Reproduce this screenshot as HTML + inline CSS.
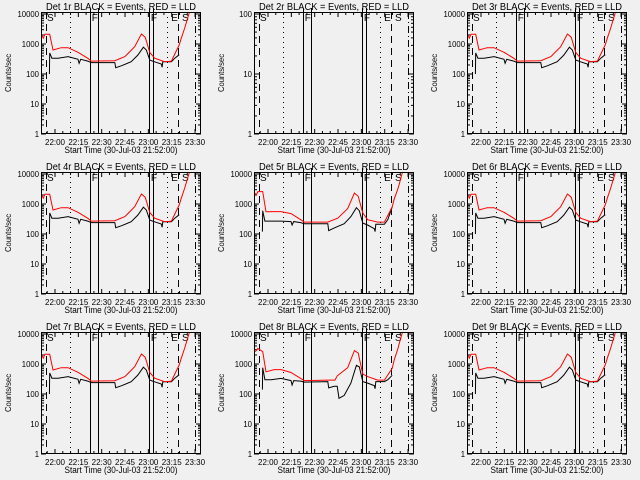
<!DOCTYPE html>
<html><head><meta charset="utf-8"><style>
html,body{margin:0;padding:0;background:#f0f0f0;}
svg{display:block;font-family:"Liberation Sans",sans-serif;}
</style></head><body>
<svg id="c" width="640" height="480" viewBox="0 0 640 480">
<rect width="640" height="480" fill="#f0f0f0"/>
</svg>
<script>
// ---- data ----
const detectors = ["1r","2r","3r","4r","5r","6r","7r","8r","9r"];
const xTickLabels = ["22:00","22:15","22:30","22:45","23:00","23:15","23:30"];
const xTickMinutes = [60,75,90,105,120,135,150]; // minutes after 21:00
const yTickLabels = ["1","10","100","1000","10000"];
const yTickLabels2 = ["1","10","100"];
// event markers (minutes after 21:00)
const markerTimes = [54.2,69.6,82.5,87.6,120.4,123,132,139,150];
const markerStyles = ["dash","dot","solid","solid","solid","solid","dot","dash","dashdot"];
const markerLabels = [["S",54.2],["F",83],["F",121],["E",134],["S",141]];

const blackTA = [56.4,56.6,58,62,68.4,74.8,75.5,76.5,81,83.3,98.4,99,102.6,109,113.3,116.8,118.7,120.9,124,128.3,128.8,129.3,134.8,137,139.8];
const blackVA = [100,500,335,335,380,310,228,310,270,240,240,162,188,258,430,780,630,290,255,215,167,255,255,335,440];
const redTA = [51.2,52.5,53.5,56.6,58.7,64,68.4,74.8,81,83.3,98.4,104.9,111.2,115.5,118,120.9,124,130.5,134.8,139.8,141.2,143.3,144.3,146.5];
const redVA = [2100,1560,2100,2100,630,750,750,530,335,270,277,380,815,2150,1680,520,335,258,270,930,1560,3300,5000,12000];

const blackVB = [120,600,270,270,270,260,200,260,240,220,220,130,160,220,380,750,600,230,200,150,120,210,210,300,800];
const redVB = [2400,2000,2600,2600,550,560,560,480,300,250,250,340,700,2300,1800,500,300,250,250,800,1500,3000,4500,12000];

const blackTC = [56.4,56.6,58,62,68.4,74.8,75.5,76.5,81,83.3,98.4,99,102.6,104.5,105.6,109,113.3,116.8,118.7,120.9,124,128.3,128.8,129.3,134.8,137,139.8];
const blackVC = [140,750,300,300,330,280,200,280,270,250,260,160,180,180,72,90,230,900,800,260,230,190,150,260,260,300,420];
const redTC = [51.2,52.5,53.5,56.6,58.7,64,68.4,74.8,81,83.3,98.4,103,104.5,111.2,115.5,118,120.9,124,130.5,134.8,139.8,141.2,143.3,144.3,146.5];
const redVC = [2500,2800,3300,2600,550,650,650,520,330,280,290,290,400,750,2800,2300,460,380,290,290,720,1400,3000,4800,12000];

const blackT = [blackTA,null,blackTA,blackTA,blackTA,blackTA,blackTA,blackTC,blackTA];
const blackV = [blackVA,null,blackVA,blackVA,blackVB,blackVA,blackVA,blackVC,blackVA];
const redT = [redTA,null,redTA,redTA,redTA,redTA,redTA,redTC,redTA];
const redV = [redVA,null,redVA,redVA,redVB,redVA,redVA,redVC,redVA];

// ---- drawing ----
const NS="http://www.w3.org/2000/svg";
const svg=document.getElementById('c');
function mk(tag,attrs,parent){const e=document.createElementNS(NS,tag);for(const k in attrs)e.setAttribute(k,attrs[k]);parent.appendChild(e);return e;}
const L=41,R=201,T=12,B=134;
function xs(t){return 55+(t-60)*1.556;}
detectors.forEach((d,i)=>{
  const col=i%3,row=Math.floor(i/3);
  const g=mk('g',{transform:`translate(${col*213},${row*160})`},svg);
  
  
  const maxDec = (i===1)?2:4;
  const topLog = maxDec*(B-T)/(B-T-2);
  function ys(v){return B-(Math.log10(v)/topLog)*(B-T);}
  const cp=mk('clipPath',{id:'cp'+i},g);
  mk('rect',{x:L,y:T,width:R-L,height:B-T},cp);
  // title
  const tt=mk('text',{x:121,y:10,'font-size':10,'text-anchor':'middle',fill:'#000',textLength:150,lengthAdjust:'spacingAndGlyphs'},g);
  tt.textContent=`Det ${d} BLACK = Events, RED = LLD`;
  
  
  // y title
  const yt=mk('text',{x:0,y:0,'font-size':8,'text-anchor':'middle',textLength:38,lengthAdjust:'spacingAndGlyphs',transform:`translate(11,73) rotate(-90)`},g);
  yt.textContent='Counts/sec';
  
  
  // x title
  const xt=mk('text',{x:121,y:153,'font-size':9,'text-anchor':'middle',textLength:113,lengthAdjust:'spacingAndGlyphs'},g);
  xt.textContent='Start Time (30-Jul-03 21:52:00)';
  
  
  // y ticks
  const labs=(i===1)?yTickLabels2:yTickLabels;
  labs.forEach((lab,k)=>{
    const y=ys(Math.pow(10,k));
    const tl=mk('text',{x:39,y:y+3,'font-size':8,'text-anchor':'end',textLength:lab.length*4.3,lengthAdjust:'spacingAndGlyphs'},g);
    tl.textContent=lab;
    
    
    mk('line',{x1:L,x2:L+5,y1:y,y2:y,stroke:'#000'},g);
    mk('line',{x1:R-5,x2:R,y1:y,y2:y,stroke:'#000'},g);
    if(k<labs.length-1){for(let m=2;m<10;m++){const ym=ys(m*Math.pow(10,k));
      mk('line',{x1:L,x2:L+3,y1:ym,y2:ym,stroke:'#000'},g);
      mk('line',{x1:R-3,x2:R,y1:ym,y2:ym,stroke:'#000'},g);}}
  });
  // x ticks
  xTickMinutes.forEach((t,k)=>{
    const x=xs(t);
    const tl=mk('text',{x:x,y:145,'font-size':8,'text-anchor':'middle',textLength:20,lengthAdjust:'spacingAndGlyphs'},g);
    tl.textContent=xTickLabels[k];
    
    
    mk('line',{x1:x,x2:x,y1:B,y2:B-5,stroke:'#000'},g);
    mk('line',{x1:x,x2:x,y1:T,y2:T+5,stroke:'#000'},g);
  });
  for(let t=55;t<=153;t+=5){if(t%15===0)continue;const x=xs(t);if(x<L||x>R)continue;
    mk('line',{x1:x,x2:x,y1:B,y2:B-3,stroke:'#000'},g);mk('line',{x1:x,x2:x,y1:T,y2:T+3,stroke:'#000'},g);}
  // markers
  const dashes={dash:'7,5',dot:'1,4',solid:'',dashdot:'7,3,1,3'};
  markerTimes.forEach((t,k)=>{
    const x=Math.round(xs(t))+0.5;
    const ln=mk('line',{x1:x,x2:x,y1:(markerStyles[k]==='solid'?8:T),y2:B,stroke:'#000','stroke-width':1,'stroke-dasharray':dashes[markerStyles[k]]},g);
    
    
  });
  markerLabels.forEach(([s,t])=>{
    const tx=mk('text',{x:xs(t)+1,y:21,'font-size':10},g);
    tx.textContent=s;
    
    
  });
  // series
  if(blackT[i]){
    const pb=blackT[i].map((t,k)=>xs(t).toFixed(1)+','+ys(blackV[i][k]).toFixed(1)).join(' ');
    const b=mk('polyline',{points:pb,fill:'none',stroke:'#000','stroke-width':1,'clip-path':`url(#cp${i})`},g);
    
    
    const pr=redT[i].map((t,k)=>xs(t).toFixed(1)+','+ys(redV[i][k]).toFixed(1)).join(' ');
    const r=mk('polyline',{points:pr,fill:'none',stroke:'#ff0000','stroke-width':1,'clip-path':`url(#cp${i})`},g);
    
    
  }
  // frame
  const fr=mk('rect',{x:L+0.5,y:T+0.5,width:R-L-1,height:B-T-1,fill:'none',stroke:'#000'},g);
  
  
});
</script>
</body></html>
